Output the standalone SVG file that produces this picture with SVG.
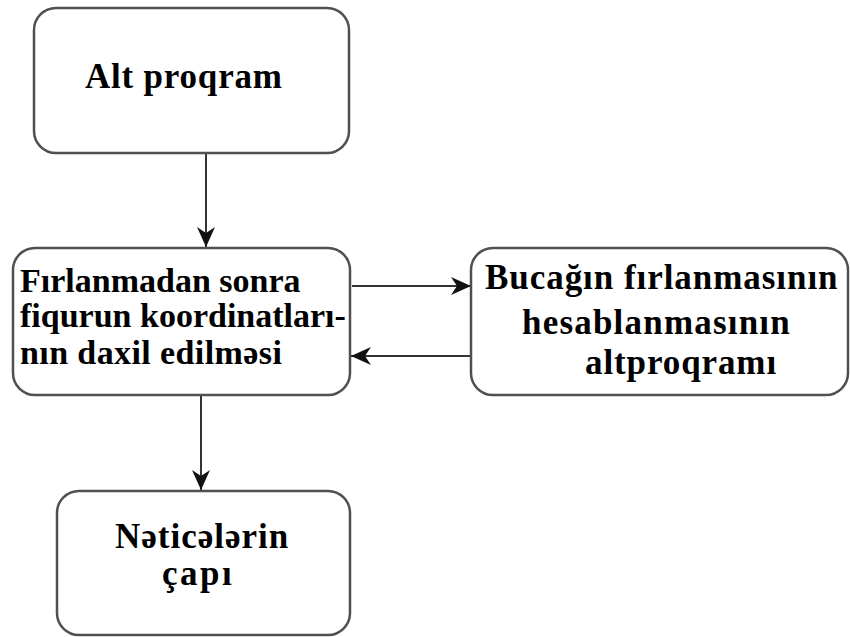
<svg xmlns="http://www.w3.org/2000/svg" width="850" height="637" viewBox="0 0 850 637">
<style>
.box{fill:#fff;stroke:#505050;stroke-width:2.5}
.c{stroke:#333;stroke-width:2;fill:none}
</style>
<defs>
<marker id="ah" viewBox="0 0 20 18" refX="20" refY="9" markerWidth="20" markerHeight="18" markerUnits="userSpaceOnUse" orient="auto">
<path d="M0,0 L20,9 L0,18 L6,9 Z" fill="#111"/>
</marker>
</defs>
<rect width="850" height="637" fill="#fff"/>
<g id="connectors">
<line class="c" x1="206" y1="154" x2="206" y2="247" marker-end="url(#ah)"/>
<line class="c" x1="352" y1="286" x2="471" y2="286" marker-end="url(#ah)"/>
<line class="c" x1="470" y1="356" x2="351" y2="356" marker-end="url(#ah)"/>
<line class="c" x1="201" y1="395" x2="201" y2="490" marker-end="url(#ah)"/>
</g>
<g font-family="Liberation Serif, serif" font-weight="bold" font-size="35" fill="#000">
<g id="n1">
<rect class="box" x="34" y="8" width="315" height="145" rx="22"/>
<text letter-spacing="0.8" x="85" y="88">Alt proqram</text>
</g>
<g id="n2">
<rect class="box" x="13" y="248" width="337" height="147" rx="22"/>
<text font-size="34" x="20" y="292">Fırlanmadan sonra</text>
<text font-size="34" x="20" y="327">fiqurun koordinatları-</text>
<text font-size="34" letter-spacing="0.4" x="20" y="364">nın daxil edilməsi</text>
</g>
<g id="n3">
<rect class="box" x="471" y="248" width="377" height="147" rx="22"/>
<text letter-spacing="0.95" x="485" y="289">Bucağın fırlanmasının</text>
<text letter-spacing="1.2" x="522" y="334">hesablanmasının</text>
<text letter-spacing="0.9" x="585" y="374">altproqramı</text>
</g>
<g id="n4">
<rect class="box" x="57" y="491" width="293" height="144" rx="22"/>
<text letter-spacing="1" x="115" y="548">Nəticələrin</text>
<text letter-spacing="2.5" x="162" y="585">çapı</text>
</g>
</g>
</svg>
